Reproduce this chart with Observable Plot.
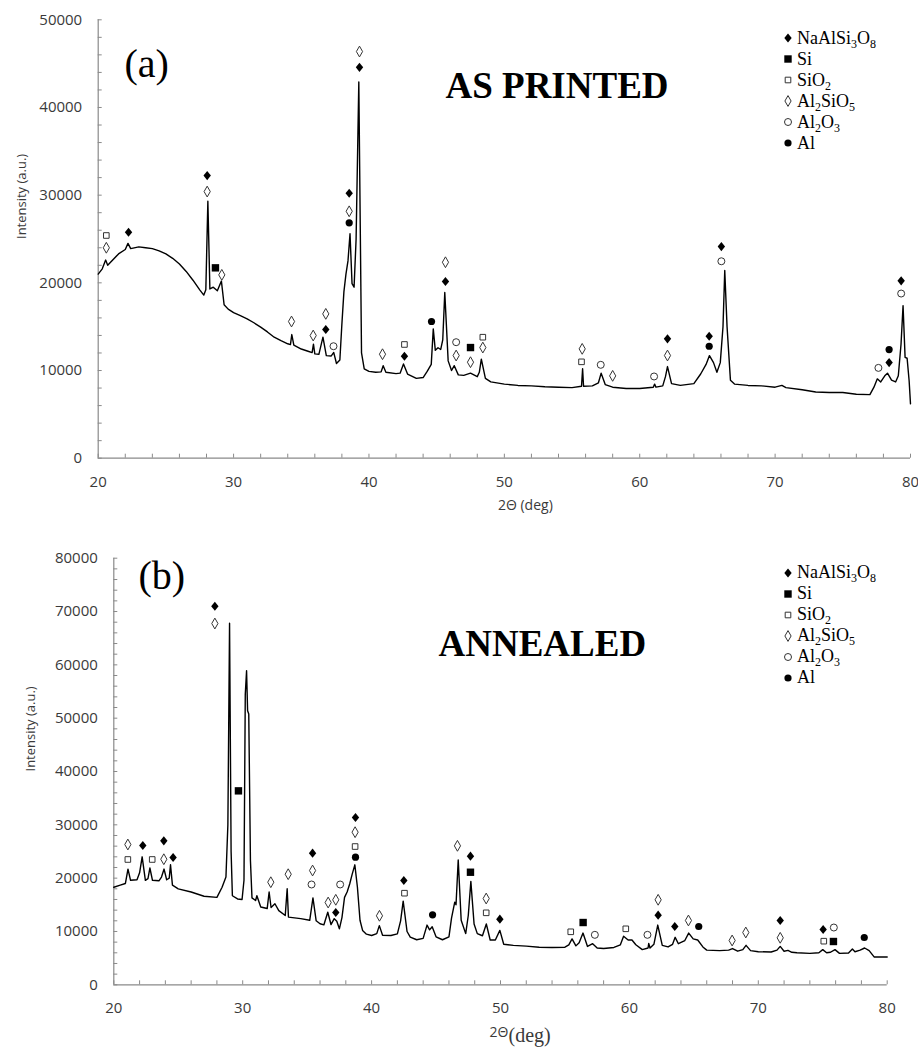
<!DOCTYPE html>
<html><head><meta charset="utf-8">
<script src="https://cdn.jsdelivr.net/npm/d3@7"></script>
<script src="https://cdn.jsdelivr.net/npm/@observablehq/plot@0.6"></script>
<style>
body{margin:0;background:#fff;}
#wrap{position:relative;width:918px;height:1047px;overflow:hidden;background:#fff;}
.panel{position:absolute;left:0;}
.legend{position:absolute;left:781px;font-family:"Liberation Serif","Times New Roman",serif;font-size:18px;color:#000;}
.legend .row{height:21px;display:flex;align-items:center;white-space:nowrap;}
.legend svg{width:14px;height:16px;margin-right:2px;overflow:visible;}
.legend sub{font-size:12px;vertical-align:-4px;line-height:0;}
</style></head><body><div id="wrap"></div>
<script>
// ---------- data ----------
const phases = ["NaAlSi3O8", "Si", "SiO2", "Al2SiO5", "Al2O3", "Al"];
const phaseLabels = ["NaAlSi<sub>3</sub>O<sub>8</sub>", "Si", "SiO<sub>2</sub>", "Al<sub>2</sub>SiO<sub>5</sub>", "Al<sub>2</sub>O<sub>3</sub>", "Al"];
const xTickLabels = [20, 30, 40, 50, 60, 70, 80];
const xMinorTicks = d3.range(20, 81, 2);
const yTickLabelsA = [0, 10000, 20000, 30000, 40000, 50000];
const yTickLabelsB = [0, 10000, 20000, 30000, 40000, 50000, 60000, 70000, 80000];
const yMinorTicksA = d3.range(0, 50001, 2000);
const yMinorTicksB = d3.range(0, 80001, 2000);

// As printed pattern [2theta, intensity]
const asPrinted = [
[20.0,21000],[20.3,21600],[20.55,22600],[20.7,22000],[21.0,22500],[21.5,23300],[22.0,23800],[22.2,24500],[22.4,23900],
[23.0,24100],[23.5,24000],[24.0,23900],[24.5,23650],[25.0,23300],[25.5,22800],[26.0,22150],[26.5,21300],[27.0,20300],
[27.5,19200],[27.8,18600],[27.95,19200],[28.1,29300],[28.25,19300],[28.5,19500],[28.8,19100],[29.1,20200],[29.3,17500],
[29.6,17000],[30.0,16600],[30.5,16250],[31.0,15900],[31.5,15450],[32.0,14950],[32.5,14400],[33.0,13800],[33.5,13400],
[34.0,13050],[34.2,12950],[34.3,14100],[34.45,12900],[35.0,12450],[35.5,12200],[35.8,12050],[35.9,13000],[36.0,11900],
[36.3,11850],[36.6,13800],[36.85,11700],[37.2,11650],[37.4,12050],[37.6,10800],[37.85,11200],[38.0,15300],[38.15,19000],
[38.3,21000],[38.45,22500],[38.6,25600],[38.75,19900],[38.9,19500],[39.05,25000],[39.25,42900],[39.45,12000],[39.65,10200],
[40.0,9900],[40.5,9800],[40.9,9850],[41.05,10550],[41.25,9800],[42.0,9650],[42.3,9700],[42.55,10750],[42.85,9600],
[43.5,9100],[44.0,9200],[44.3,9900],[44.6,10700],[44.75,14750],[44.9,12300],[45.1,12600],[45.3,12400],[45.45,13500],
[45.6,18900],[45.85,11100],[46.1,10000],[46.3,10550],[46.6,9500],[47.0,9450],[47.5,9700],[48.0,9300],[48.15,9800],
[48.3,11300],[48.6,9100],[49.0,8700],[50.0,8450],[51.0,8300],[52.0,8250],[53.0,8150],[54.0,8100],[55.0,8050],[55.7,8200],
[55.78,10200],[55.85,8200],[56.5,8250],[56.95,8600],[57.15,9700],[57.45,8400],[58.0,8100],[59.0,7950],[60.0,7950],
[61.0,8100],[61.1,8450],[61.2,8100],[61.7,8250],[61.9,9300],[62.05,10450],[62.35,8500],[63.0,8300],[64.0,8500],[64.5,9600],
[64.9,10700],[65.15,11700],[65.45,10900],[65.7,9800],[65.95,10900],[66.15,15000],[66.28,21400],[66.45,15000],[66.7,8900],
[67.0,8450],[68.0,8300],[69.0,8250],[70.0,8100],[70.5,8300],[70.8,8050],[72.0,7800],[73.0,7550],[74.0,7500],[75.0,7500],
[76.0,7300],[77.0,7250],[77.3,8100],[77.55,9050],[77.8,8700],[78.1,9400],[78.3,9700],[78.6,8900],[78.9,8700],[79.1,9400],
[79.3,13000],[79.45,17400],[79.6,11500],[79.75,11400],[79.9,8800],[80.0,6200]
];

// Annealed pattern [2theta, intensity]
const annealed = [
[20.0,18300],[20.5,18700],[20.9,19000],[21.1,21700],[21.3,19600],[21.8,19700],[22.0,21000],[22.2,24000],[22.45,19600],
[22.65,19900],[22.8,21900],[23.0,19600],[23.5,19500],[23.7,20200],[23.9,21700],[24.1,19700],[24.3,20000],[24.4,22500],
[24.55,18700],[25.0,18000],[26.0,17400],[27.0,16600],[28.0,16400],[28.4,18300],[28.7,20200],[28.85,30000],[28.98,67800],
[29.1,25000],[29.2,16700],[29.6,16100],[29.95,16000],[30.1,19600],[30.2,54500],[30.3,58900],[30.38,51400],[30.47,50800],
[30.6,23300],[30.72,16300],[31.0,15800],[31.1,16700],[31.4,14600],[31.9,14300],[32.05,17400],[32.2,14500],[32.5,15200],
[32.8,13900],[33.3,13000],[33.45,18000],[33.55,12700],[34.5,12400],[35.2,12100],[35.45,16300],[35.7,12000],[36.0,11450],
[36.3,11250],[36.6,13600],[36.85,11300],[37.1,12400],[37.3,11900],[37.5,10500],[37.7,12600],[37.9,16400],[38.1,17400],
[38.3,18900],[38.5,20800],[38.7,22500],[38.9,18300],[39.1,12100],[39.3,10200],[39.6,9500],[40.0,9250],[40.4,9600],
[40.6,11100],[40.85,9300],[41.5,9250],[42.0,9550],[42.25,12000],[42.45,15700],[42.75,10000],[43.0,8950],[43.5,8450],
[44.0,8700],[44.3,11200],[44.5,10300],[44.7,10900],[45.0,9000],[45.5,8450],[46.0,9000],[46.2,12500],[46.45,15500],
[46.55,15000],[46.72,23400],[46.95,12100],[47.3,9600],[47.5,13000],[47.7,19400],[47.95,11400],[48.2,9600],[48.6,9200],
[48.9,11400],[49.2,8400],[49.6,8400],[49.95,10200],[50.25,7600],[51.0,7400],[52.0,7250],[53.0,7050],[54.0,7000],
[55.0,7050],[55.3,7500],[55.55,8600],[55.85,7300],[56.1,7900],[56.4,9700],[56.75,7200],[57.15,7700],[57.5,6900],
[58.0,6800],[58.8,7000],[59.3,7500],[59.55,9100],[59.9,8400],[60.2,8400],[60.5,7500],[61.0,6600],[61.45,6900],[61.5,7750],
[61.6,6900],[61.9,7600],[62.2,11200],[62.55,7400],[63.0,7100],[63.35,7600],[63.55,8900],[63.8,7700],[64.3,8300],
[64.6,9700],[64.95,8600],[65.3,8400],[65.7,7100],[66.0,6500],[67.0,6400],[67.7,6500],[68.0,6800],[68.4,6300],[68.8,6600],
[69.05,7400],[69.4,6400],[70.0,6200],[71.0,6150],[71.45,6500],[71.7,7200],[72.0,6300],[72.3,6450],[72.6,6100],[73.0,6000],
[74.0,5900],[74.7,6000],[75.0,6600],[75.3,6000],[75.6,6100],[75.95,6600],[76.3,5900],[77.0,5950],[77.3,6700],[77.5,6200],
[77.9,6500],[78.25,6900],[78.6,6400],[79.0,5200],[80.0,5200]
];

// Peak markers [phase, 2theta, intensity]
const markersA = [
["SiO2",20.6,25400],["Al2SiO5",20.6,24000],["NaAlSi3O8",22.24,25770],
["NaAlSi3O8",28.05,32230],["Al2SiO5",28.05,30410],["Si",28.66,21710],["Al2SiO5",29.13,20910],
["Al2SiO5",34.28,15590],["Al2SiO5",35.88,13990],["Al2SiO5",36.81,16460],["NaAlSi3O8",36.81,14680],["Al2O3",37.38,12770],
["NaAlSi3O8",38.54,30220],["Al2SiO5",38.54,28160],["Al",38.54,26840],["Al2SiO5",39.3,46380],["NaAlSi3O8",39.3,44580],
["Al2SiO5",41.0,11860],["SiO2",42.62,12970],["NaAlSi3O8",42.62,11630],["Al",44.62,15590],
["Al2SiO5",45.65,22350],["NaAlSi3O8",45.65,20150],["Al2O3",46.44,13230],["Al2SiO5",46.44,11710],
["Si",47.5,12620],["Al2SiO5",47.5,10950],["SiO2",48.41,13800],["Al2SiO5",48.41,12620],
["Al2SiO5",55.75,12470],["SiO2",55.7,10990],["Al2O3",57.12,10650],["Al2SiO5",58.0,9390],["Al2O3",61.06,9320],
["NaAlSi3O8",62.05,13610],["Al2SiO5",62.05,11710],["NaAlSi3O8",65.13,13910],["Al",65.13,12770],
["NaAlSi3O8",66.03,24140],["Al2O3",66.03,22460],["Al2O3",77.63,10300],["Al",78.42,12390],["NaAlSi3O8",78.42,10910],
["NaAlSi3O8",79.31,20230],["Al2O3",79.31,18780]
];
const markersB = [
["Al2SiO5",21.09,26310],["SiO2",21.09,23500],["NaAlSi3O8",22.25,26120],["SiO2",22.98,23500],
["NaAlSi3O8",23.88,27000],["Al2SiO5",23.88,23550],["NaAlSi3O8",24.6,23870],
["NaAlSi3O8",27.84,70990],["Al2SiO5",27.84,67750],["Si",29.67,36370],
["Al2SiO5",32.18,19240],["Al2SiO5",33.53,20740],["NaAlSi3O8",35.42,24680],["Al2SiO5",35.42,21430],["Al2O3",35.34,18810],
["Al2O3",37.56,18810],["Al2SiO5",36.63,15430],["Al2SiO5",37.22,15940],["NaAlSi3O8",37.22,13560],
["NaAlSi3O8",38.75,31370],["Al2SiO5",38.72,28620],["SiO2",38.72,25930],["Al",38.75,23930],
["Al2SiO5",40.61,12940],["NaAlSi3O8",42.5,19560],["SiO2",42.55,17180],["Al",44.73,13130],
["Al2SiO5",46.66,26060],["NaAlSi3O8",47.67,24120],["Si",47.67,21110],["Al2SiO5",48.89,16180],["SiO2",48.89,13500],
["NaAlSi3O8",49.95,12300],["SiO2",55.45,9940],["Si",56.41,11680],["Al2O3",57.32,9370],["SiO2",59.72,10500],
["Al2O3",61.4,9370],["Al2SiO5",62.23,15940],["NaAlSi3O8",62.23,13050],["NaAlSi3O8",63.52,10930],["Al2SiO5",64.58,12060],
["Al",65.38,10930],["Al2SiO5",67.97,8310],["Al2SiO5",69.03,9810],["NaAlSi3O8",71.7,12060],["Al2SiO5",71.7,8810],
["NaAlSi3O8",75.03,10370],["Al2O3",75.86,10740],["SiO2",75.08,8180],["Si",75.83,8120],["Al",78.22,8870]
];

// ---------- symbols & styles ----------
const symbols = {
  "NaAlSi3O8": {draw(c){c.moveTo(0,-4.6);c.lineTo(3.7,0);c.lineTo(0,4.6);c.lineTo(-3.7,0);c.closePath();}},
  "Si": {draw(c){c.rect(-3.7,-3.7,7.4,7.4);}},
  "SiO2": {draw(c){c.rect(-2.8,-2.8,5.6,5.6);}},
  "Al2SiO5": {draw(c){c.moveTo(0,-5.4);c.lineTo(3.1,0);c.lineTo(0,5.4);c.lineTo(-3.1,0);c.closePath();}},
  "Al2O3": {draw(c){c.moveTo(3.5,0);c.arc(0,0,3.5,0,2*Math.PI);}},
  "Al": {draw(c){c.moveTo(3.6,0);c.arc(0,0,3.6,0,2*Math.PI);}}
};
const filled = {"NaAlSi3O8": true, "Si": true, "SiO2": false, "Al2SiO5": false, "Al2O3": false, "Al": true};
const axisColor = "#8a8a8a";
const textColor = "#3a3a3a";

function markerMarks(markers) {
  return phases.map(p => Plot.dot(markers.filter(d => d[0] === p), {
    x: d => d[1], y: d => d[2], r: 4, symbol: symbols[p],
    fill: filled[p] ? "#000" : "#fff",
    stroke: filled[p] ? "none" : "#333", strokeWidth: 1
  }));
}

function legendDiv(top) {
  const div = document.createElement("div");
  div.className = "legend";
  div.style.top = top + "px";
  phases.forEach((p, i) => {
    const path = d3.symbol(symbols[p])();
    const row = document.createElement("div");
    row.className = "row";
    row.innerHTML = `<svg viewBox="-7 -8 14 16"><path d="${path}" fill="${filled[p] ? "#000" : "#fff"}" stroke="${filled[p] ? "none" : "#333"}" stroke-width="1"/></svg><span>${phaseLabels[i]}</span>`;
    div.appendChild(row);
  });
  return div;
}

function panel({pattern, markers, yMax, yLabels, yMinor, height, margins, label, title, labelPos, titlePos, yTitleDx, xTitleMarks}) {
  const tf = d => String(d);
  return Plot.plot({
    width: 918, height,
    marginTop: margins[0], marginRight: margins[1], marginBottom: margins[2], marginLeft: margins[3],
    x: {domain: [20, 80]},
    y: {domain: [0, yMax]},
    style: {fontFamily: "'Open Sans', sans-serif", fontSize: "15px", color: textColor, background: "white", overflow: "visible"},
    marks: [
      Plot.ruleY([0], {stroke: axisColor, strokeWidth: 1.2}),
      Plot.ruleX([20], {stroke: axisColor, strokeWidth: 1.2}),
      Plot.axisX({ticks: xMinorTicks, tickSize: -4, tickPadding: 22, stroke: axisColor, tickFormat: d => xTickLabels.includes(d) ? tf(d) : "", label: null}),
      Plot.axisY({ticks: yMinor, tickSize: -4, tickPadding: 20, stroke: axisColor, tickFormat: d => yLabels.includes(d) ? tf(d) : "", label: null}),
      Plot.line(pattern, {x: d => d[0], y: d => d[1], stroke: "#000", strokeWidth: 1.4}),
      ...markerMarks(markers),
      Plot.text(["Intensity (a.u.)"], {frameAnchor: "left", dx: yTitleDx, rotate: -90, fontSize: 13, fill: textColor}),
      ...xTitleMarks,
      Plot.text([label], {frameAnchor: "top-left", textAnchor: "start", lineAnchor: "bottom", dx: labelPos[0], dy: labelPos[1], fontFamily: "'Liberation Serif', serif", fontSize: 40, fill: "#000"}),
      Plot.text([title], {frameAnchor: "top-left", textAnchor: "start", lineAnchor: "bottom", dx: titlePos[0], dy: titlePos[1], fontFamily: "'Liberation Serif', serif", fontWeight: "bold", fontSize: 37, fill: "#000"})
    ]
  });
}

const wrap = document.getElementById("wrap");

const svgA = panel({
  pattern: asPrinted, markers: markersA, yMax: 50000, yLabels: yTickLabelsA, yMinor: yMinorTicksA,
  height: 520, margins: [19.3, 8, 62.3, 97.7],
  label: "(a)", title: "AS PRINTED", labelPos: [26.3, 56.7], titlePos: [347.3, 77.7], yTitleDx: -76.7,
  xTitleMarks: [Plot.text(["2Θ (deg)"], {frameAnchor: "bottom", lineAnchor: "bottom", dx: 21, dy: 52, fontSize: 14, fill: textColor})]
});
svgA.classList.add("panel"); svgA.style.top = "0px";
wrap.appendChild(svgA);

const svgB = panel({
  pattern: annealed, markers: markersB, yMax: 80000, yLabels: yTickLabelsB, yMinor: yMinorTicksB,
  height: 527, margins: [37.7, 31.3, 62.7, 113.3],
  label: "(b)", title: "ANNEALED", labelPos: [24.7, 30.3], titlePos: [324.7, 97.3], yTitleDx: -83,
  xTitleMarks: [
    Plot.text(["2Θ"], {frameAnchor: "bottom", lineAnchor: "bottom", textAnchor: "end", dx: 8, dy: 51.7, fontSize: 14, fill: textColor}),
    Plot.text(["(deg)"], {frameAnchor: "bottom", lineAnchor: "bottom", textAnchor: "start", dx: 8, dy: 56.7, fontFamily: "'Liberation Serif', serif", fontSize: 20, fill: textColor})
  ]
});
svgB.classList.add("panel"); svgB.style.top = "520px";
wrap.appendChild(svgB);

wrap.appendChild(legendDiv(27.5));
wrap.appendChild(legendDiv(562));
</script>
</body></html>
